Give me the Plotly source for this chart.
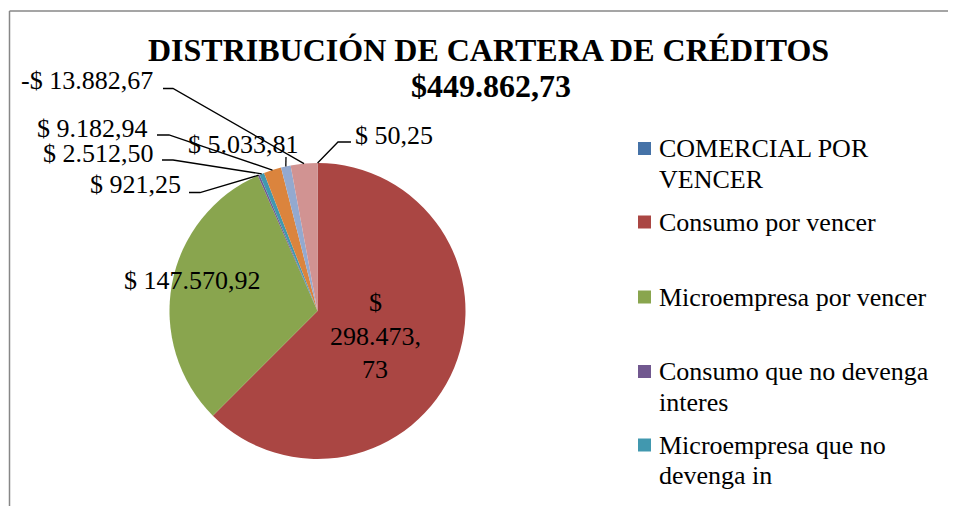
import math
import plotly.graph_objects as go

# ---------------- data ----------------
categories = [
    "COMERCIAL POR VENCER",
    "Consumo por vencer",
    "Microempresa por vencer",
    "Consumo que no devenga interes",
    "Microempresa que no devenga in",
    "Consumo vencida",
    "Microempresa vencida",
    "Provisiones",
]
values = [50.25, 298473.73, 147570.92, 921.25, 2512.50, 9182.94, 5033.81, -13882.67]
colors = ["#4572A7", "#AA4643", "#89A54E", "#71588F", "#4198AF", "#DB843D", "#93A9CF", "#D19392"]
legend_lines = [
    ["COMERCIAL POR", "VENCER"],
    ["Consumo por vencer"],
    ["Microempresa por vencer"],
    ["Consumo que no devenga", "interes"],
    ["Microempresa que no", "devenga in"],
]
title_lines = ["DISTRIBUCIÓN DE CARTERA DE CRÉDITOS", "$449.862,73"]

W, H = 956, 506
OFF = 8  # page (body) margin of the browser
FONT = "'Liberation Serif', Tinos, 'Times New Roman', 'DejaVu Serif', 'Noto Serif', serif"
CX, CY, R = 317.5, 311.0, 148.0  # pie centre / radius in screen px


def px(x):
    return (x - OFF) / W


def py(y):
    return 1 - (y - OFF) / H


def fmt(v):
    s = f"{abs(v):,.2f}".replace(",", "X").replace(".", ",").replace("X", ".")
    return ("-" if v < 0 else "") + "$ " + s


abs_vals = [abs(v) for v in values]
total_abs = sum(abs_vals)

fig = go.Figure()
fig.add_trace(go.Pie(
    labels=categories,
    values=abs_vals,
    sort=False,
    direction="clockwise",
    rotation=0,
    marker=dict(colors=colors, line=dict(width=0)),
    textinfo="none",
    showlegend=False,
    domain=dict(x=[px(CX - R), px(CX + R)], y=[py(CY + R), py(CY - R)]),
    hovertext=[fmt(v) for v in values],
    hoverinfo="label+text",
))

# slice mid points on the rim (from the data)
mids = []
cum = 0.0
for v in abs_vals:
    a = (cum + v / 2) / total_abs * 2 * math.pi
    mids.append((CX + R * math.sin(a), CY - R * math.cos(a)))
    cum += v

annotations = []
shapes = []

# title
annotations.append(dict(text="<b>%s</b>" % title_lines[0], x=px(489), y=py(50), xref="paper", yref="paper",
                        showarrow=False, xanchor="center", yanchor="middle",
                        font=dict(family=FONT, size=32, color="black")))
annotations.append(dict(text="<b>%s</b>" % title_lines[1], x=px(491), y=py(86), xref="paper", yref="paper",
                        showarrow=False, xanchor="center", yanchor="middle",
                        font=dict(family=FONT, size=32, color="black")))

# outside labels
outside = {
    7: dict(x=155, anchor="right", y=80.5, h=(163, 173, 88.5)),
    5: dict(x=150, anchor="right", y=129, h=(157, 169, 135)),
    4: dict(x=156, anchor="right", y=153, h=(162, 173, 160)),
    3: dict(x=183, anchor="right", y=184.5, h=(189, 200, 192.5)),
    6: dict(x=243, anchor="center", y=144.5, h=None, v=(286, 157)),
    0: dict(x=353, anchor="left", y=135, h=(351, 338, 142)),
}
for i, d in outside.items():
    annotations.append(dict(text=fmt(values[i]), x=px(d["x"]), y=py(d["y"]), xref="paper", yref="paper",
                            showarrow=False, xanchor=d["anchor"], yanchor="middle",
                            font=dict(family=FONT, size=26, color="black")))
    mx, my = mids[i]
    if d["h"] is not None:
        x0, x1, yy = d["h"]
        path = "M %f,%f L %f,%f L %f,%f" % (px(x0), py(yy), px(x1), py(yy), px(mx), py(my))
    else:
        vx, vy = d["v"]
        path = "M %f,%f L %f,%f" % (px(vx), py(vy), px(mx), py(my))
    shapes.append(dict(type="path", path=path, xref="paper", yref="paper",
                       line=dict(color="black", width=1.3)))

# inside labels
annotations.append(dict(text=fmt(values[2]), x=px(192), y=py(280), xref="paper", yref="paper",
                        showarrow=False, xanchor="center", yanchor="middle",
                        font=dict(family=FONT, size=26, color="black")))
red_parts = ["$", fmt(values[1])[2:10], fmt(values[1])[10:]]
for t, yy in zip(red_parts, [302, 336, 369]):
    annotations.append(dict(text=t, x=px(375), y=py(yy), xref="paper", yref="paper",
                            showarrow=False, xanchor="center", yanchor="middle",
                            font=dict(family=FONT, size=26, color="black")))

# legend (manual: only five entries are visible in the reference)
leg_y = [148.5, 222, 297, 371.5, 445]
for i, lines in enumerate(legend_lines):
    yc = leg_y[i]
    shapes.append(dict(type="rect", xref="paper", yref="paper",
                       x0=px(638), x1=px(651), y0=py(yc - 6.5), y1=py(yc + 6.5),
                       fillcolor=colors[i], line=dict(width=0)))
    for k, t in enumerate(lines):
        annotations.append(dict(text=t, x=px(657), y=py(yc + 30.5 * k), xref="paper", yref="paper",
                                showarrow=False, xanchor="left", yanchor="middle",
                                font=dict(family=FONT, size=26, color="black")))

# chart frame
shapes.append(dict(type="line", xref="paper", yref="paper", x0=px(9.5), x1=px(9.5), y0=py(11), y1=py(520),
                   line=dict(color="#878787", width=1.5)))
shapes.append(dict(type="line", xref="paper", yref="paper", x0=px(9.5), x1=px(970), y0=py(11), y1=py(11),
                   line=dict(color="#878787", width=1.5)))

fig.update_layout(
    width=W, height=H,
    margin=dict(l=0, r=0, t=0, b=0),
    paper_bgcolor="white", plot_bgcolor="white",
    font=dict(family=FONT),
    annotations=annotations, shapes=shapes,
    showlegend=False,
)

fig.write_html("out.html")
